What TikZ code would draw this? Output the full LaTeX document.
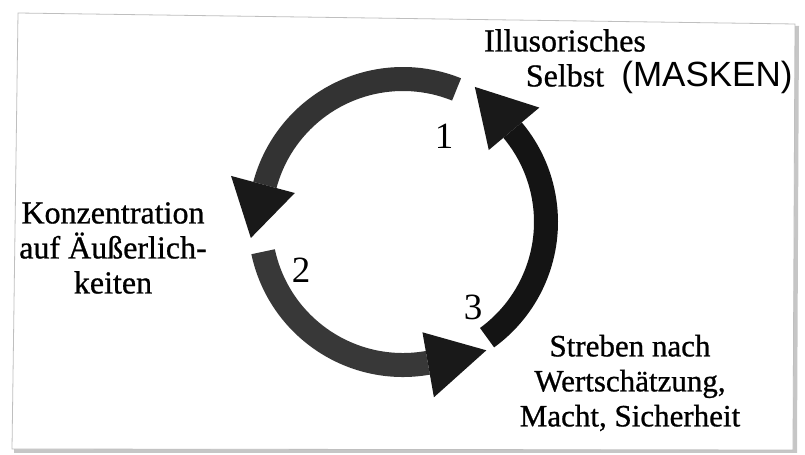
\documentclass[tikz,border=0pt]{standalone}
\usepackage{fontspec}
\setmainfont{Liberation Serif}
\newfontface\scanfont{Liberation Serif}[FakeBold=0.8]
\newfontfamily\handfont{Liberation Sans}
\begin{document}
\begin{tikzpicture}[x=0.5pt,y=0.5pt,
    labeltext/.style={font=\scanfont\fontsize{16}{17.5}\selectfont,align=center,inner sep=0pt},
    number/.style={font=\fontsize{18.5}{18.5}\selectfont,inner sep=0pt}]
    \useasboundingbox (0,0) rectangle (805,455);
    % Page
    \fill[gray!45] (14,2) -- (797,2) -- (799,429) -- (20,440) -- cycle;
    \filldraw[fill=white,draw=gray!50] (12,6) -- (793,5) -- (795,431) -- (18,442) -- cycle;
    % Arrows
    \begin{scope}[shift={(403,233)}]
      \foreach \s/\b/\t/\c in {68/165/186/black!80,192/280/303/black!78,306/400/422/black!92} {
        \fill[\c] (\s:155) arc[start angle=\s,end angle=\b,radius=155]
          -- (\b:131) arc[start angle=\b,end angle=\s,radius=131] -- cycle;
        \fill[black!90] (\b:178) -- (\t:153) -- (\b:112) -- cycle;
      }
    \end{scope}
    % Numbers
    \node[number] (one) at (444,319) {1};
    \node[number] (two) at (301,185) {2};
    \node[number] (three) at (473,148) {3};
    % Labels
    \node[labeltext] (self) at (565,397) {Illusorisches\\Selbst};
    \node[anchor=base west,inner sep=0pt,font=\handfont\fontsize{17.5}{17.5}\selectfont] (masks) at (621,368) {(MASKEN)};
    \node[labeltext] (outer) at (113,207) {Konzentration\\auf Äußerlich-\\keiten};
    \node[labeltext,font=\scanfont\fontsize{15.5}{17.5}\selectfont] (strive) at (630,72) {Streben nach\\Wertschätzung,\\Macht, Sicherheit};
\end{tikzpicture}
\end{document}
